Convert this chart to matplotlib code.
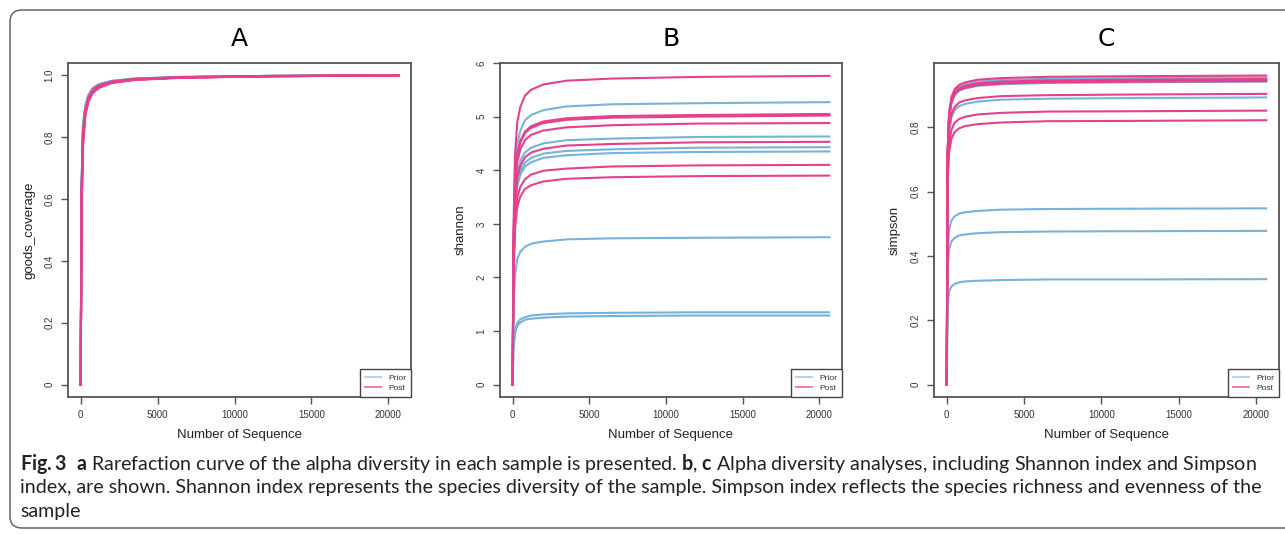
import matplotlib
matplotlib.use("Agg")
import matplotlib.pyplot as plt
from matplotlib.lines import Line2D
from matplotlib.patches import FancyBboxPatch
from matplotlib.transforms import IdentityTransform

# sequencing depth where each rarefaction curve was read
depth = [0, 50, 150, 300, 500, 800, 1200, 2000, 3500, 6500, 12000, 20650]

# A: goods coverage
goods_prior = [
    [0, 0.62, 0.83, 0.895, 0.933, 0.957, 0.970, 0.981, 0.989, 0.994, 0.998, 1.000],
    [0, 0.60, 0.82, 0.890, 0.930, 0.955, 0.968, 0.980, 0.988, 0.994, 0.998, 1.000],
    [0, 0.63, 0.84, 0.900, 0.936, 0.959, 0.971, 0.982, 0.989, 0.995, 0.998, 1.000],
    [0, 0.61, 0.82, 0.893, 0.931, 0.956, 0.969, 0.980, 0.988, 0.994, 0.998, 1.000],
    [0, 0.64, 0.84, 0.902, 0.937, 0.960, 0.972, 0.982, 0.990, 0.995, 0.998, 1.000],
    [0, 0.62, 0.83, 0.896, 0.934, 0.957, 0.970, 0.981, 0.989, 0.994, 0.998, 1.000],
    [0, 0.60, 0.81, 0.888, 0.928, 0.954, 0.967, 0.979, 0.988, 0.994, 0.998, 1.000],
]
goods_post = [
    [0, 0.58, 0.80, 0.880, 0.922, 0.950, 0.964, 0.977, 0.987, 0.993, 0.997, 1.000],
    [0, 0.60, 0.81, 0.887, 0.927, 0.953, 0.966, 0.979, 0.988, 0.994, 0.998, 1.000],
    [0, 0.56, 0.78, 0.873, 0.918, 0.946, 0.961, 0.976, 0.986, 0.993, 0.997, 1.000],
    [0, 0.59, 0.80, 0.883, 0.924, 0.951, 0.965, 0.978, 0.987, 0.993, 0.997, 1.000],
    [0, 0.57, 0.79, 0.877, 0.920, 0.948, 0.963, 0.977, 0.986, 0.993, 0.997, 1.000],
    [0, 0.61, 0.82, 0.890, 0.929, 0.955, 0.968, 0.980, 0.988, 0.994, 0.998, 1.000],
    [0, 0.55, 0.77, 0.870, 0.915, 0.944, 0.960, 0.975, 0.985, 0.992, 0.997, 1.000],
]

# B: shannon
shannon_prior = [
    [0, 2.64, 3.90, 4.48, 4.74, 4.93, 5.03, 5.12, 5.19, 5.23, 5.25, 5.27],
    [0, 2.32, 3.43, 3.94, 4.17, 4.33, 4.42, 4.50, 4.56, 4.59, 4.62, 4.63],
    [0, 2.22, 3.28, 3.77, 3.99, 4.14, 4.23, 4.31, 4.36, 4.39, 4.42, 4.43],
    [0, 2.18, 3.22, 3.70, 3.92, 4.07, 4.15, 4.23, 4.28, 4.32, 4.34, 4.35],
    [0, 1.38, 2.04, 2.34, 2.48, 2.57, 2.63, 2.67, 2.71, 2.73, 2.74, 2.75],
    [0, 0.68, 1.00, 1.15, 1.22, 1.26, 1.29, 1.31, 1.33, 1.34, 1.35, 1.35],
    [0, 0.65, 0.95, 1.10, 1.16, 1.21, 1.23, 1.25, 1.27, 1.28, 1.29, 1.29],
]
shannon_post = [
    [0, 2.88, 4.26, 4.90, 5.18, 5.39, 5.50, 5.60, 5.67, 5.71, 5.74, 5.76],
    [0, 2.53, 3.74, 4.29, 4.55, 4.72, 4.82, 4.91, 4.97, 5.01, 5.03, 5.05],
    [0, 2.51, 3.71, 4.27, 4.52, 4.69, 4.79, 4.88, 4.94, 4.98, 5.00, 5.02],
    [0, 2.44, 3.61, 4.15, 4.39, 4.56, 4.66, 4.74, 4.80, 4.84, 4.87, 4.88],
    [0, 2.27, 3.35, 3.85, 4.08, 4.24, 4.33, 4.40, 4.46, 4.49, 4.52, 4.53],
    [0, 2.05, 3.03, 3.49, 3.69, 3.83, 3.92, 3.99, 4.03, 4.07, 4.09, 4.10],
    [0, 1.95, 2.89, 3.32, 3.51, 3.65, 3.72, 3.79, 3.84, 3.87, 3.89, 3.90],
]

# C: simpson
simpson_prior = [
    [0, 0.716, 0.840, 0.888, 0.912, 0.926, 0.934, 0.942, 0.947, 0.951, 0.953, 0.955],
    [0, 0.710, 0.833, 0.881, 0.904, 0.919, 0.926, 0.934, 0.939, 0.943, 0.945, 0.947],
    [0, 0.707, 0.829, 0.876, 0.900, 0.914, 0.921, 0.929, 0.934, 0.938, 0.940, 0.942],
    [0, 0.670, 0.786, 0.830, 0.853, 0.866, 0.873, 0.880, 0.886, 0.889, 0.891, 0.893],
    [0, 0.411, 0.482, 0.510, 0.523, 0.532, 0.536, 0.540, 0.544, 0.546, 0.547, 0.548],
    [0, 0.359, 0.421, 0.445, 0.456, 0.464, 0.467, 0.471, 0.474, 0.476, 0.477, 0.478],
    [0, 0.246, 0.289, 0.305, 0.313, 0.318, 0.321, 0.323, 0.325, 0.327, 0.327, 0.328],
]
simpson_post = [
    [0, 0.721, 0.846, 0.894, 0.918, 0.932, 0.940, 0.948, 0.953, 0.957, 0.959, 0.961],
    [0, 0.713, 0.836, 0.884, 0.907, 0.922, 0.929, 0.937, 0.942, 0.946, 0.948, 0.950],
    [0, 0.710, 0.832, 0.880, 0.903, 0.918, 0.925, 0.933, 0.938, 0.942, 0.944, 0.946],
    [0, 0.708, 0.831, 0.878, 0.902, 0.916, 0.923, 0.931, 0.936, 0.940, 0.942, 0.944],
    [0, 0.678, 0.796, 0.841, 0.863, 0.877, 0.884, 0.891, 0.897, 0.900, 0.902, 0.904],
    [0, 0.639, 0.750, 0.792, 0.814, 0.826, 0.833, 0.840, 0.845, 0.849, 0.850, 0.852],
    [0, 0.617, 0.723, 0.764, 0.785, 0.797, 0.804, 0.810, 0.815, 0.819, 0.820, 0.822],
]

titles = ["A", "B", "C"]
ylabels = ["goods_coverage", "shannon", "simpson"]
xticks = [0, 5000, 10000, 15000, 20000]
yticks_list = [[0, 0.2, 0.4, 0.6, 0.8, 1.0], [0, 1, 2, 3, 4, 5, 6], [0, 0.2, 0.4, 0.6, 0.8]]
ylims = [(-0.04, 1.04), (-0.23, 5.99), (-0.0385, 1.0)]

blue = "#78B1DA"
pink = "#E5408D"
axcol = "#555555"

plt.rcParams["font.family"] = ["Liberation Sans", "DejaVu Sans"]
plt.rcParams["mathtext.fontset"] = "custom"
plt.rcParams["mathtext.rm"] = "Lato"
plt.rcParams["mathtext.bf"] = "Lato:bold"

fig = plt.figure(figsize=(12.85, 5.34), dpi=100)

# rounded frame around the figure panel
frame = FancyBboxPatch((10, 6), 1320, 518, boxstyle="round,pad=0,rounding_size=12",
                       transform=IdentityTransform(), fill=False, edgecolor="#666666", linewidth=1.1)
fig.patches.append(frame)

lefts = [68, 500, 934]
widths = [343, 342, 345]
data = [(goods_prior, goods_post), (shannon_prior, shannon_post), (simpson_prior, simpson_post)]

for i in range(3):
    ax = fig.add_axes([lefts[i] / 1285, (534 - 397) / 534, widths[i] / 1285, 334 / 534])
    prior, post = data[i]
    for s in prior:
        ax.plot(depth, s, color=blue, lw=1.5, solid_joinstyle="round")
    for s in post:
        ax.plot(depth, s, color=pink, lw=1.5, solid_joinstyle="round")
    ax.set_xlim(-826, 21476)
    ax.set_ylim(*ylims[i])
    ax.set_xticks(xticks)
    ax.set_xticklabels([str(t) for t in xticks])
    ax.set_yticks(yticks_list[i])
    ax.set_yticklabels([str(t) for t in yticks_list[i]], rotation=90, va="center")
    for sp in ax.spines.values():
        sp.set_color(axcol)
        sp.set_linewidth(1.3)
    ax.tick_params(direction="out", length=5, width=1, color=axcol, labelsize=7,
                   labelcolor="#333333", pad=4.5)
    ax.set_xlabel("Number of Sequence", fontsize=9.5, color="#222222", labelpad=6)
    ax.set_ylabel(ylabels[i], fontsize=9.5, color="#222222", labelpad=7)
    ax.set_title(titles[i], fontsize=18, family="DejaVu Sans", pad=12)
    handles = [Line2D([], [], color="#A9D1EE", lw=1.3), Line2D([], [], color="#EE6FA3", lw=1.3)]
    leg = ax.legend(handles, ["Prior", "Post"], loc="lower right", borderaxespad=0,
                    fontsize=6, fancybox=False, framealpha=1, handlelength=2.0,
                    handletextpad=0.8, borderpad=0.6, labelspacing=0.3)
    leg.get_frame().set_edgecolor("#444444")
    leg.get_frame().set_linewidth(1.0)
    for t in leg.get_texts():
        t.set_color("#333333")

cap_lines = [
    r"$\mathbf{Fig.3}$  $\mathbf{a}$ Rarefaction curve of the alpha diversity in each sample is presented. "
    r"$\mathbf{b}$, $\mathbf{c}$ Alpha diversity analyses, including Shannon index and Simpson",
    "index, are shown. Shannon index represents the species diversity of the sample. "
    "Simpson index reflects the species richness and evenness of the",
    "sample",
]
for j, line in enumerate(cap_lines):
    fig.text(20 / 1285, 1 - (470 + 23.5 * j) / 534, line, fontsize=14.1, family="Lato",
             color="#222222", va="baseline", ha="left")

fig.savefig("out.png", dpi=100)
